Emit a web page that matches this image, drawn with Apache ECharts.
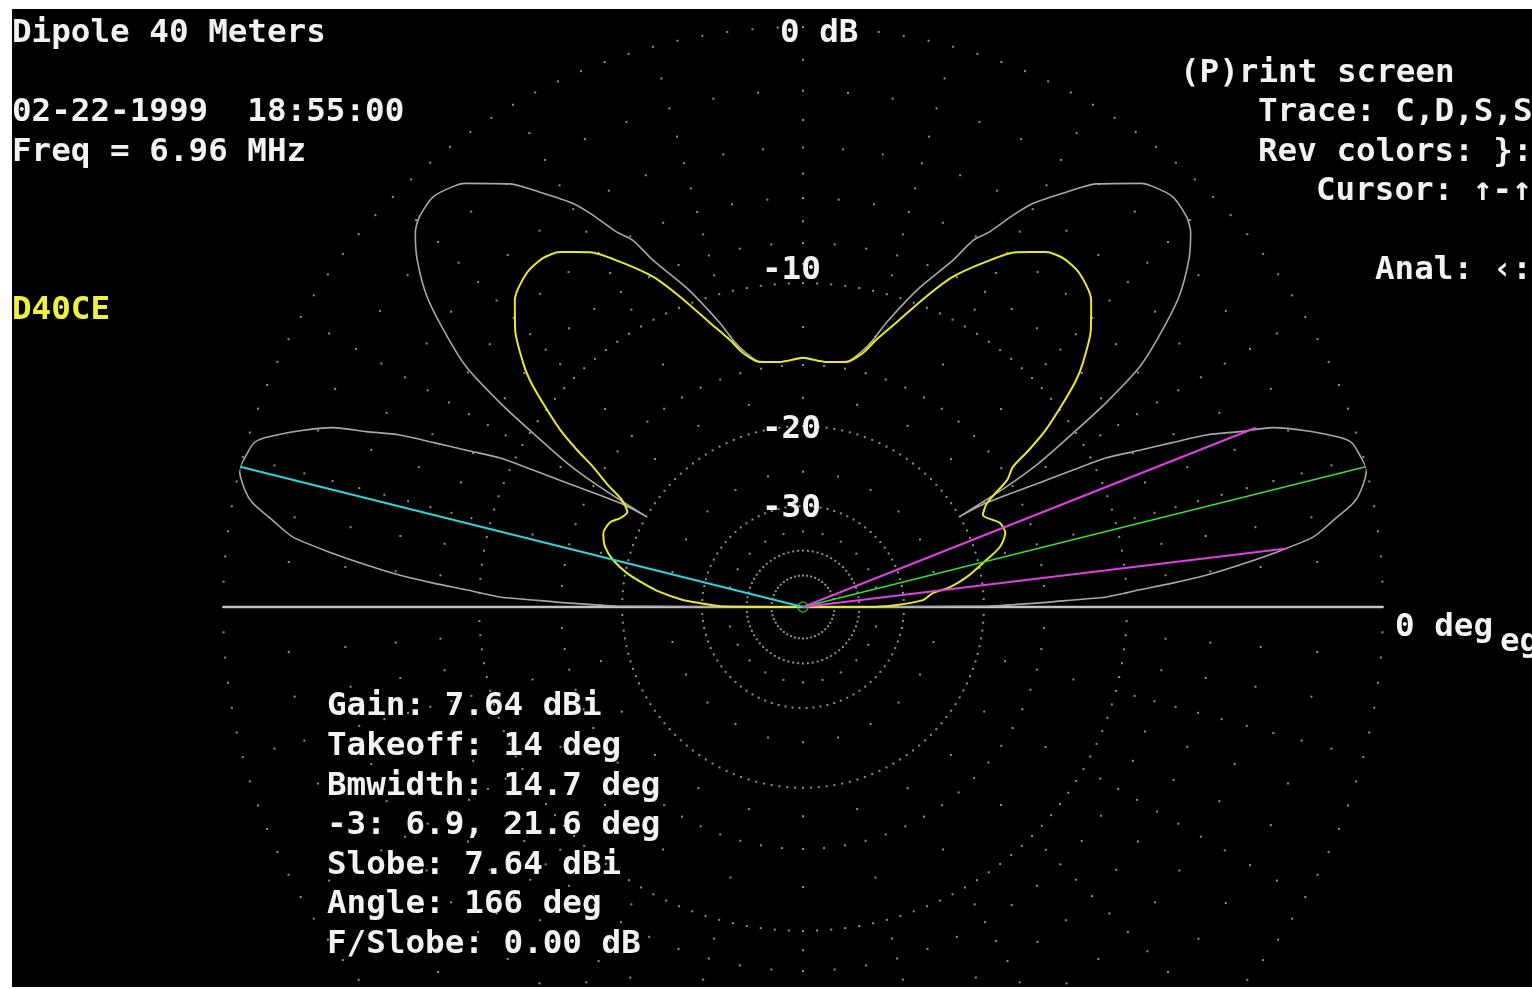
<!DOCTYPE html>
<html>
<head>
<meta charset="utf-8">
<title>Dipole 40 Meters</title>
<script src="https://cdn.jsdelivr.net/npm/echarts@6/dist/echarts.min.js"></script>
<style>
  html, body { margin: 0; padding: 0; background: #fff; }
  #chart { position: absolute; left: 12px; top: 9px; width: 1520px; height: 978px; background: #000; }
</style>
</head>
<body>
<div id="chart"></div>
<script>
// elevation pattern, dB relative to the 0 dB ring (7.64 dBi), angle in deg (0 = right horizon)
const grayAngle = [0, 0.3, 1.0, 1.5, 1.9, 2.9, 3.7, 4.5, 5.5, 6.5, 7.8, 9.3, 10.7, 11.8, 13.7, 15.0, 16.6, 17.5, 19.3, 20.9,
  21.9, 23.1, 24.0, 25.0, 26.2, 26.9, 27.7, 29.6, 30.0, 30.6, 31.4, 32.8, 34.0, 35.5, 37.2, 39.5, 42.0, 44.0, 45.5, 48.0,
  50.2, 51.4, 55.3, 57.6, 60.3, 61.8, 63.6, 65.1, 66.6, 70.0, 73.7, 75.3, 77.0, 80.0, 84.6, 88.6, 90,
  91.4, 95.4, 100, 103, 104.7, 106.3, 110, 113.4, 114.9, 116.4, 118.2, 119.7, 122.4, 124.7, 128.6, 129.8, 132, 134.5,
  136, 138, 140.5, 142.8, 144.5, 146, 147.2, 148.6, 149.4, 150, 150.4, 152.3, 153.1, 153.8, 155, 156, 156.9, 158.1,
  159.1, 160.7, 162.5, 163.4, 165, 166.3, 168.2, 169.3, 170.7, 172.2, 173.5, 174.5, 175.5, 176.3, 177.1, 178.1, 178.5,
  179, 179.7, 180];
const grayDb = [-99, -19.5, -15.4, -13.1, -11.1, -9.35, -7.7, -6.2, -4.8, -3.5, -2.05, -1.3, -0.6, -0.3, 0, -0.07, -0.2, -0.5, -1.45, -2.45,
  -3.6, -4.8, -6.2, -7.7, -9.3, -11.2, -13.3, -17.4, -20, -15.4, -12.7, -10.1, -7.9, -5.8, -4.5, -3.0, -1.9, -1.26, -1.0, -0.84,
  -1.0, -1.16, -2.05, -2.85, -3.8, -4.56, -5.6, -6.2, -7.35, -9.2, -11.55, -12.75, -13.6, -14.5, -14.7, -14.55, -14.5,
  -14.55, -14.7, -14.5, -13.6, -12.75, -11.55, -9.2, -7.35, -6.2, -5.6, -4.56, -3.8, -2.85, -2.05, -1.16, -1.0, -0.84, -1.0,
  -1.26, -1.9, -3.0, -4.5, -5.8, -7.9, -10.1, -12.7, -15.4, -20, -17.4, -13.3, -11.2, -9.3, -7.7, -6.2, -4.8, -3.6,
  -2.45, -1.45, -0.5, -0.2, -0.07, 0, -0.3, -0.6, -1.3, -2.05, -3.5, -4.8, -6.2, -7.7, -9.35, -11.1, -13.1,
  -15.4, -19.5, -99];

const yellowAngle = [0, 0.2, 1.2, 3.3, 6.1, 7.7, 10.4, 13.7, 16.9, 20.1, 23.1, 27.1, 29.5, 31.9, 33.7, 34.8, 36.1, 38.1,
  39.7, 41.1, 43.9, 46.8, 50.4, 53.3, 55.6, 59.0, 62.1, 65.6, 68.4, 71.9, 74.7, 76.7, 80.0, 84.6, 88.6, 90,
  91.4, 95.4, 100, 103.3, 105.3, 108.1, 111.6, 114.4, 117.9, 121, 124.4, 126.7, 129.6, 133.2, 136.1, 138.9, 140.3,
  141.9, 143.9, 145.2, 146.3, 148, 149.4, 151.6, 154.1, 156.2, 159.7, 163.1, 166.1, 169.1, 171.5, 174, 176.7, 177.8,
  179.7, 180];
const yellowDb = [-99, -35.3, -31.2, -27.0, -25.6, -23.4, -21.4, -19.6, -17.8, -17.0, -17.1, -18.1, -17.3, -15.1, -14.3, -12.8, -11.3, -9.65,
  -8.43, -7.65, -6.4, -5.5, -5.0, -4.93, -5.13, -5.79, -6.79, -8.07, -9.5, -11.38, -12.7, -13.7, -14.53, -14.71, -14.56, -14.5,
  -14.56, -14.71, -14.53, -13.7, -12.7, -11.38, -9.5, -8.07, -6.79, -5.79, -5.13, -4.93, -5.0, -5.5, -6.4, -7.65, -8.43,
  -9.65, -11.3, -12.8, -14.3, -15.9, -17.4, -18.3, -18.0, -17.4, -17.2, -17.7, -18.65, -20.15, -21.9, -23.9, -27.0, -29.6,
  -34, -99];

// cursor readouts
const takeoffAngle = 14;
const sideLobeAngle = 166;
const halfPowerAngles = [6.9, 21.6];
const halfPowerDb = -3;

// dotted grid: rings (dB, dot spacing in deg) and 15 deg rays
const ringDb = [0, -2, -4, -6, -8, -10, -15, -20, -30, -40, -50];
const ringStep = [2.5, 5, 5, 5, 5, 2.5, 5, 2.5, 4, 5, 7.5];
const rayDb = [-1, -3, -5, -7, -9, -12.5, -17.5, -25, -35];
const rayStep = 15;

// texts
const titleLines = ['Dipole 40 Meters', '02-22-1999  18:55:00', 'Freq = 6.96 MHz'];
const traceName = 'D40CE';
const ringLabels = ['0 dB', '-10', '-20', '-30'];
const menuLines = ['(P)rint screen', 'Trace: C,D,S,S', 'Rev colors: }:', 'Cursor: \u2191-\u2191', 'Anal: \u2039:'];
const statsLines = ['Gain: 7.64 dBi', 'Takeoff: 14 deg', 'Bmwidth: 14.7 deg', '-3: 6.9, 21.6 deg',
  'Slobe: 7.64 dBi', 'Angle: 166 deg', 'F/Slobe: 0.00 dB'];

// ARRL log scale: 0.89 per 2 dB
const rad = db => Math.pow(0.89, -db / 2);

const OX = 12, OY = 9;
const CX = 803 - OX, CY = 607 - OY, R = 580;

function txt(s, x, y, color) {
  return {
    type: 'text', x: x - OX, y: y - OY, z: 100, silent: true,
    style: {
      text: s, fill: color || '#f2f2f2', fontFamily: 'DejaVu Sans Mono', fontWeight: 'bold',
      fontSize: 32.6, verticalAlign: 'middle'
    }
  };
}

const dots = [];
ringDb.forEach((db, i) => {
  for (let a = 0; a < 360; a += ringStep[i]) dots.push([rad(db), a]);
});
rayDb.forEach(db => {
  for (let a = 0; a < 360; a += rayStep) dots.push([rad(db), a]);
});

const chart = echarts.init(document.getElementById('chart'));

function lineSeries(data, color, width, z, smooth) {
  return {
    type: 'line', coordinateSystem: 'polar', data: data, showSymbol: false, symbol: 'none',
    smooth: smooth || false, clip: false, silent: true, z: z, lineStyle: { color: color, width: width }
  };
}

const graphic = [];
graphic.push(txt(titleLines[0], 12, 34));
graphic.push(txt(titleLines[1], 12, 113));
graphic.push(txt(titleLines[2], 12, 153));
graphic.push(txt(traceName, 12, 311, '#f0f040'));
graphic.push(txt(ringLabels[0], 780, 34));
graphic.push(txt(ringLabels[1], 762, 271));
graphic.push(txt(ringLabels[2], 762, 430));
graphic.push(txt(ringLabels[3], 762, 509));
graphic.push(txt(menuLines[0], 1180, 74));
graphic.push(txt(menuLines[1], 1258, 113));
graphic.push(txt(menuLines[2], 1258, 153));
graphic.push(txt(menuLines[3], 1316, 192));
graphic.push(txt(menuLines[4], 1375, 271));
graphic.push(txt('0 deg', 1395, 628));
graphic.push(txt('eg', 1500, 643));
statsLines.forEach((s, i) => graphic.push(txt(s, 327, 707 + i * 39.6)));

chart.setOption({
  animation: false,
  backgroundColor: '#000',
  polar: { center: [CX, CY], radius: R },
  angleAxis: { type: 'value', min: 0, max: 360, startAngle: 0, clockwise: false, show: false },
  radiusAxis: { type: 'value', min: 0, max: 1, show: false },
  graphic: graphic,
  series: [
    {
      type: 'scatter', coordinateSystem: 'polar', data: dots, symbol: 'rect', symbolSize: 2,
      silent: true, z: 1, itemStyle: { color: '#b4b4b4' }
    },
    lineSeries([[1, 180], [0, 0], [1, 0]], '#c4c4c4', 2.5, 2),
    lineSeries(grayAngle.map((a, i) => [rad(grayDb[i]), a]), '#a8a8a8', 1.6, 3, 0.25),
    lineSeries(yellowAngle.map((a, i) => [rad(yellowDb[i]), a]), '#e8e82c', 2, 4, 0.25),
    lineSeries([[0, 0], [1, sideLobeAngle]], '#2cd4dc', 2, 5),
    lineSeries([[0, 0], [1, takeoffAngle]], '#34e034', 1.5, 5),
    lineSeries([[0, 0], [rad(halfPowerDb), halfPowerAngles[0]]], '#e040e0', 2, 6),
    lineSeries([[0, 0], [rad(halfPowerDb), halfPowerAngles[1]]], '#e040e0', 2, 6),
    {
      type: 'scatter', coordinateSystem: 'polar', data: [[0, 0]], symbol: 'circle', symbolSize: 10,
      silent: true, z: 7, itemStyle: { color: 'rgba(0,0,0,0)', borderColor: '#30d030', borderWidth: 1.5 }
    }
  ]
});
</script>
</body>
</html>
